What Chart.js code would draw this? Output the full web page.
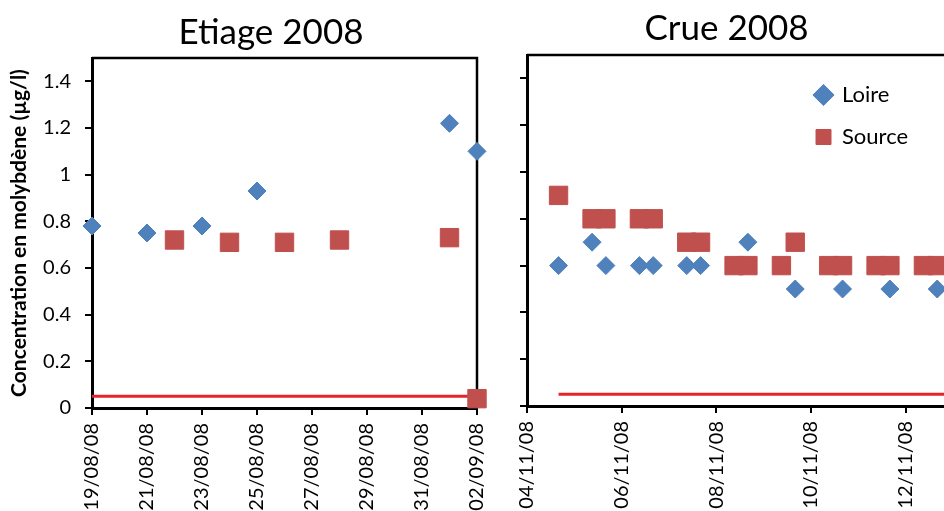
<!DOCTYPE html>
<html><head><meta charset="utf-8">
<script src="https://cdn.jsdelivr.net/npm/chart.js@4.4.1/dist/chart.umd.min.js"></script>
<style>
html,body{margin:0;padding:0;background:#fff;width:944px;height:511px;overflow:hidden;}
#wrap{position:relative;width:944px;height:511px;overflow:hidden;background:#fff;}
#c1{position:absolute;left:0;top:0;}
#c2{position:absolute;left:500px;top:0;}
</style></head><body><div id="wrap"><canvas id="c1" width="542" height="511"></canvas><canvas id="c2" width="453" height="511"></canvas></div>
<script>
// ---- Data ----
const etiageLoireDates  = ['2008-08-19','2008-08-21','2008-08-23','2008-08-25','2008-09-01','2008-09-02'];
const etiageLoireValues = [0.78, 0.75, 0.78, 0.93, 1.22, 1.10];
const etiageSourceDates  = ['2008-08-22','2008-08-24','2008-08-26','2008-08-28','2008-09-01','2008-09-02'];
const etiageSourceValues = [0.72, 0.71, 0.71, 0.72, 0.73, 0.04];
const etiageLimitDates  = ['2008-08-19','2008-09-02'];
const etiageLimitValues = [0.05, 0.05];

const crueLoireTimes  = ['2008-11-04T16:00','2008-11-05T09:00','2008-11-05T16:00','2008-11-06T09:00','2008-11-06T16:00','2008-11-07T09:00','2008-11-07T16:00','2008-11-08T16:00','2008-11-09T16:00','2008-11-10T16:00','2008-11-11T16:00','2008-11-12T16:00'];
const crueLoireValues = [0.6, 0.7, 0.6, 0.6, 0.6, 0.6, 0.6, 0.7, 0.5, 0.5, 0.5, 0.5];
const crueSourceTimes  = ['2008-11-04T16:00','2008-11-05T09:00','2008-11-05T16:00','2008-11-06T09:00','2008-11-06T16:00','2008-11-07T09:00','2008-11-07T16:00','2008-11-08T09:00','2008-11-08T16:00','2008-11-09T09:00','2008-11-09T16:00','2008-11-10T09:00','2008-11-10T16:00','2008-11-11T09:00','2008-11-11T16:00','2008-11-12T09:00','2008-11-12T16:00'];
const crueSourceValues = [0.9, 0.8, 0.8, 0.8, 0.8, 0.7, 0.7, 0.6, 0.6, 0.6, 0.7, 0.6, 0.6, 0.6, 0.6, 0.6, 0.6];
const crueLimitTimes  = ['2008-11-04T16:00','2008-11-13T16:00'];
const crueLimitValues = [0.05, 0.05];

const etiageOrigin = '2008-08-19';
const etiageEnd    = '2008-09-02';
const crueOrigin   = '2008-11-04';
const crueEnd      = '2008-11-13';

const etiageTickLabels = ['19/08/08','21/08/08','23/08/08','25/08/08','27/08/08','29/08/08','31/08/08','02/09/08'];
const crueTickLabels   = ['04/11/08','06/11/08','08/11/08','10/11/08','12/11/08'];
const yTickLabels      = ['0','0.2','0.4','0.6','0.8','1','1.2','1.4'];

const titles = ['Etiage 2008', 'Crue 2008'];
const seriesNames = ['Loire', 'Source'];
const yTitle = 'Concentration en molybdène (µg/l)';

// ---- helpers ----
function ms(s){ return Date.parse(s.length === 10 ? s + 'T00:00:00Z' : s + ':00Z'); }
function days(s, origin){ return (ms(s) - ms(origin)) / 864e5; }
function pts(dates, vals, origin){ return dates.map((d,i)=>({x: days(d, origin), y: vals[i]})); }

Chart.defaults.font.family = 'Lato, "Open Sans", sans-serif';
Chart.defaults.color = '#000';

const BLUE = '#4F81BD', RED = '#C0504D', LIMIT = '#E8242A';

const framePlugin = {
  id: 'frame',
  beforeDatasetsDraw(chart) {
    const a = chart.chartArea, ctx = chart.ctx;
    ctx.save();
    ctx.strokeStyle = '#000'; ctx.lineWidth = 2.5;
    ctx.beginPath();
    ctx.moveTo(a.left, a.top); ctx.lineTo(a.right, a.top); ctx.lineTo(a.right, a.bottom);
    ctx.stroke();
    ctx.restore();
  }
};
const legendPlace = {
  id: 'legendPlace',
  afterLayout(chart, args, opts) {
    const lg = chart.legend;
    if (!lg || opts.left === undefined) return;
    lg.left = opts.left; lg.top = opts.top; lg.right = chart.width; lg.bottom = chart.height;
  }
};

function datasets(lD, lV, sD, sV, limD, limV, origin) {
  return [
    { label: seriesNames[0], data: pts(lD, lV, origin), pointStyle: 'rectRot', pointRadius: 9,
      backgroundColor: BLUE, borderColor: BLUE, borderWidth: 1, clip: false },
    { label: seriesNames[1], data: pts(sD, sV, origin), pointStyle: 'rect', pointRadius: 13,
      backgroundColor: RED, borderColor: RED, borderWidth: 1, clip: false },
    { label: 'LQ', data: pts(limD, limV, origin), showLine: true, pointRadius: 0,
      borderColor: LIMIT, backgroundColor: LIMIT, borderWidth: 3 }
  ];
}

function gridOpts(){ return { drawOnChartArea: false, drawTicks: true, tickLength: 7, color: '#000', lineWidth: 2 }; }
function borderOpts(){ return { display: true, color: '#000', width: 3 }; }
function fixX(h){ return s => { s.height = h; s.paddingLeft = 0; s.paddingRight = 0; }; }

// ---- Left chart: Etiage ----
new Chart(document.getElementById('c1'), {
  type: 'scatter',
  data: { datasets: datasets(etiageLoireDates, etiageLoireValues, etiageSourceDates, etiageSourceValues, etiageLimitDates, etiageLimitValues, etiageOrigin) },
  options: {
    responsive: false, animation: false, events: [],
    layout: { padding: 0, autoPadding: false },
    plugins: {
      legend: { display: false },
      tooltip: { enabled: false },
      title: { display: true, text: titles[0], color: '#000', font: { size: 35, weight: 'normal', lineHeight: 1 }, padding: { top: 15.5, bottom: 7.5 } }
    },
    scales: {
      x: { type: 'linear', min: 0, max: days(etiageEnd, etiageOrigin),
           afterFit: fixX(103),
           ticks: { stepSize: 2, includeBounds: false, autoSkip: false, minRotation: 90, maxRotation: 90, padding: 8, color: '#000', font: { size: 20 },
                    callback: v => etiageTickLabels[Math.round(v / 2)] },
           grid: gridOpts(), border: borderOpts() },
      y: { type: 'linear', min: 0, max: 1.5,
           afterFit: s => { s.width = 92; },
           ticks: { stepSize: 0.2, includeBounds: false, padding: 14, color: '#000', font: { size: 20 },
                    callback: v => yTickLabels[Math.round(v / 0.2)] },
           grid: gridOpts(), border: borderOpts(),
           title: { display: true, text: yTitle, color: '#000', font: { size: 21, weight: 'bold' }, padding: { top: 7, bottom: 0 } } },
      yR: { type: 'linear', position: 'right', display: true,
            afterFit: s => { s.width = 65; },
            ticks: { display: false }, grid: { display: false }, border: { display: false } }
    }
  },
  plugins: [framePlugin]
});

// ---- Right chart: Crue ----
new Chart(document.getElementById('c2'), {
  type: 'scatter',
  data: { datasets: datasets(crueLoireTimes, crueLoireValues, crueSourceTimes, crueSourceValues, crueLimitTimes, crueLimitValues, crueOrigin) },
  options: {
    responsive: false, animation: false, events: [],
    layout: { padding: 0, autoPadding: false },
    plugins: {
      legend: { display: true, position: 'chartArea', align: 'start',
                labels: { usePointStyle: true, boxWidth: 15, boxHeight: 15, padding: 20, color: '#000', font: { size: 22 },
                          filter: item => item.text !== 'LQ' } },
      legendPlace: { left: 296, top: 64 },
      tooltip: { enabled: false },
      title: { display: true, text: titles[1], color: '#000', font: { size: 35, weight: 'normal', lineHeight: 1 }, padding: { top: 11.7, bottom: 8.3 } }
    },
    scales: {
      x: { type: 'linear', min: 0, max: days(crueEnd, crueOrigin),
           afterFit: fixX(105),
           ticks: { stepSize: 2, includeBounds: false, autoSkip: false, minRotation: 90, maxRotation: 90, padding: 8, color: '#000', font: { size: 20 },
                    callback: v => crueTickLabels[Math.round(v / 2)] },
           grid: gridOpts(), border: borderOpts() },
      y: { type: 'linear', min: 0, max: 1.5,
           afterFit: s => { s.width = 27; },
           ticks: { stepSize: 0.2, includeBounds: false, padding: 0, font: { size: 20 },
                    callback: () => '' },
           grid: gridOpts(), border: borderOpts() }
    }
  },
  plugins: [framePlugin, legendPlace]
});
</script></body></html>
